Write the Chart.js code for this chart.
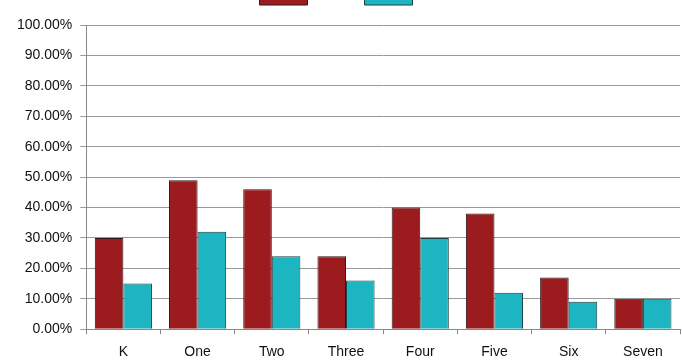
<!DOCTYPE html>
<html lang="en">

<head>
    <meta charset="UTF-8">
    <script src="https://cdn.jsdelivr.net/npm/chart.js"></script>
    <title>Grades</title>
    <style>
        html, body { margin: 0; padding: 0; background: #fff; }
        .wrap { position: relative; width: 682px; height: 362px; overflow: hidden; }
        /* the legend row sits mostly above the visible frame */
        .inner { position: absolute; left: 0; top: -59px; width: 682px; height: 431px; }
    </style>
</head>

<body>
    <div class="wrap">
        <div class="inner">
            <canvas id="myChart"></canvas>
        </div>
    </div>
    <script>
        // grade levels
        const grades = ['K', 'One', 'Two', 'Three', 'Four', 'Five', 'Six', 'Seven'];

        // percent values for each series
        const seriesA = [30, 49, 46, 24, 40, 38, 17, 10];
        const seriesB = [15, 32, 24, 16, 30, 12, 9, 10];

        const yTicks = [0, 10, 20, 30, 40, 50, 60, 70, 80, 90, 100];

        const data = {
            labels: grades,
            datasets: [{
                label: '',
                data: seriesA,
                backgroundColor: '#9b1b1f',
                borderColor: '#2a1a1a',
                borderWidth: 1
            }, {
                label: '',
                data: seriesB,
                backgroundColor: '#1db5c1',
                borderColor: '#1e3e42',
                borderWidth: 1
            }]
        };

        const config = {
            type: 'bar',
            data: data,
            options: {
                responsive: true,
                maintainAspectRatio: false,
                animation: false,
                datasets: {
                    bar: {
                        categoryPercentage: 0.77,
                        barPercentage: 1.0
                    }
                },
                layout: {
                    padding: { left: 9, right: 2, top: 0, bottom: 1 }
                },
                plugins: {
                    legend: {
                        display: true,
                        position: 'top',
                        labels: {
                            boxWidth: 48,
                            boxHeight: 14,
                            padding: 40,
                            font: { size: 34 }
                        }
                    },
                    tooltip: { enabled: false }
                },
                scales: {
                    x: {
                        grid: {
                            drawOnChartArea: false,
                            color: '#888',
                            tickLength: 5,
                            offset: true
                        },
                        border: { color: '#888' },
                        ticks: {
                            color: '#111',
                            font: { family: 'Liberation Sans', size: 14 },
                            padding: 10
                        }
                    },
                    y: {
                        min: 0,
                        max: 100,
                        afterBuildTicks: (axis) => {
                            axis.ticks = yTicks.map(v => ({ value: v }));
                        },
                        grid: {
                            color: '#9a9a9a',
                            tickLength: 6
                        },
                        border: { color: '#888' },
                        ticks: {
                            color: '#111',
                            font: { family: 'Liberation Sans', size: 14 },
                            padding: 8,
                            callback: (v) => v.toFixed(2) + '%'
                        }
                    }
                }
            }
        };

        const myChart = new Chart(
            document.getElementById('myChart'),
            config
        );
    </script>
</body>

</html>
